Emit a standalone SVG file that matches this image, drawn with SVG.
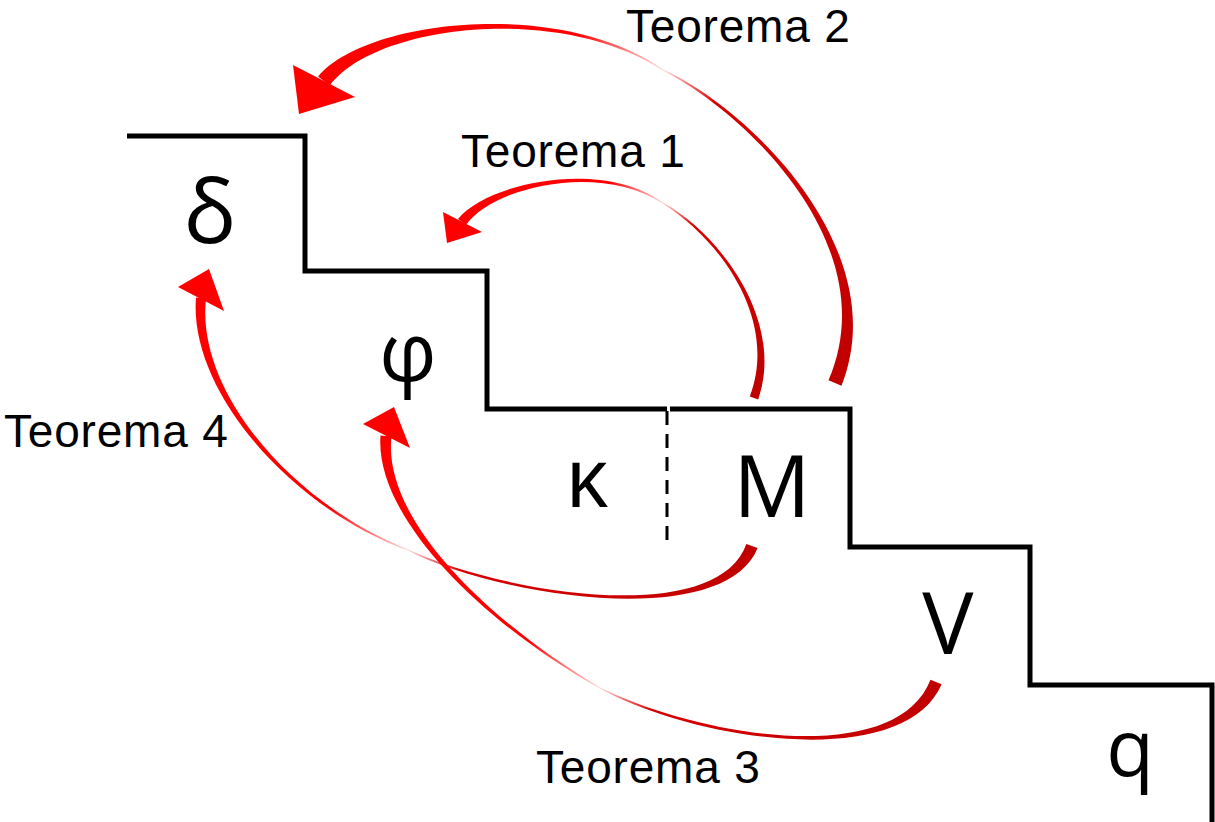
<svg xmlns="http://www.w3.org/2000/svg" width="1215" height="822" viewBox="0 0 1215 822">
<style>
.stair{fill:none;stroke:#000;stroke-width:5;stroke-linejoin:miter;stroke-linecap:butt}
.dash{fill:none;stroke:#000;stroke-width:3;stroke-dasharray:14 9}
.lbl{font-family:"Liberation Sans",Arial,sans-serif;font-size:46px;letter-spacing:0.8px;fill:#000}
.sym{font-family:"Open Sans","Noto Sans","DejaVu Sans",sans-serif;fill:#000;text-anchor:middle}
.head{fill:#ff0000}
</style>
<defs>
<linearGradient id="g2h" gradientUnits="userSpaceOnUse" x1="324" y1="81" x2="663" y2="70"><stop offset="0" stop-color="#ff0000"/><stop offset="0.75" stop-color="#ff0000"/><stop offset="1" stop-color="#ffdada"/></linearGradient>
<linearGradient id="g2t" gradientUnits="userSpaceOnUse" x1="663" y1="70" x2="835" y2="383"><stop offset="0" stop-color="#ffdada"/><stop offset="0.15" stop-color="#d80000"/><stop offset="1" stop-color="#c00000"/></linearGradient>
<linearGradient id="g1h" gradientUnits="userSpaceOnUse" x1="462" y1="222" x2="663" y2="203"><stop offset="0" stop-color="#ff0000"/><stop offset="0.75" stop-color="#ff0000"/><stop offset="1" stop-color="#ffdada"/></linearGradient>
<linearGradient id="g1t" gradientUnits="userSpaceOnUse" x1="663" y1="203" x2="754" y2="398"><stop offset="0" stop-color="#ffdada"/><stop offset="0.15" stop-color="#d80000"/><stop offset="1" stop-color="#c00000"/></linearGradient>
<linearGradient id="g4h" gradientUnits="userSpaceOnUse" x1="201" y1="298" x2="408" y2="550"><stop offset="0" stop-color="#ff0000"/><stop offset="0.75" stop-color="#ff0000"/><stop offset="1" stop-color="#ffdada"/></linearGradient>
<linearGradient id="g4t" gradientUnits="userSpaceOnUse" x1="408" y1="550" x2="752" y2="546"><stop offset="0" stop-color="#ffdada"/><stop offset="0.15" stop-color="#d80000"/><stop offset="1" stop-color="#c00000"/></linearGradient>
<linearGradient id="g3h" gradientUnits="userSpaceOnUse" x1="386" y1="436" x2="600" y2="688"><stop offset="0" stop-color="#ff0000"/><stop offset="0.75" stop-color="#ff0000"/><stop offset="1" stop-color="#ffdada"/></linearGradient>
<linearGradient id="g3t" gradientUnits="userSpaceOnUse" x1="600" y1="688" x2="936" y2="682"><stop offset="0" stop-color="#ffdada"/><stop offset="0.15" stop-color="#d80000"/><stop offset="1" stop-color="#c00000"/></linearGradient>
</defs>
<rect width="1215" height="822" fill="#fff"/>

<g id="staircase">
<polyline class="stair" points="127,136 305,136 305,271 487,271 487,409 667,409"/>
<polyline class="stair" points="670,409 850,409 850,547 1030,547 1030,685 1212,685 1212,822"/>
<line class="dash" x1="667" y1="411" x2="667" y2="540"/>
</g>

<g id="node-delta"><text class="sym" x="210" y="243" font-size="88">δ</text></g>
<g id="node-phi"><text class="sym" x="408" y="381" font-size="80">φ</text></g>
<g id="node-kappa"><text class="sym" x="587" y="507" font-size="82">κ</text></g>
<g id="node-M"><text class="sym" x="772" y="517" font-size="86">M</text></g>
<g id="node-V"><text class="sym" x="948" y="654" font-size="86">V</text></g>
<g id="node-q"><text class="sym" x="1130" y="776" font-size="78">q</text></g>

<g id="connectors">
<g id="teorema2">
<path fill="url(#g2h)" d="M329.9,85.6 C374.1,25.2 558.4,2.3 662.7,70.4 L663.3,69.6 C561.6,-2.3 365.9,18.8 318.1,76.4 Z"/>
<path fill="url(#g2t)" d="M662.8,70.5 C748.8,114.4 885.5,248.2 828.5,380.3 L841.5,385.7 C894.5,251.8 751.2,109.6 663.2,69.5 Z"/>
<polygon class="head" points="293,65 355,97 299,114"/>
</g>
<g id="teorema1">
<path fill="url(#g1h)" d="M466,225 C492.8,187.1 598.9,161.7 662.7,203.4 L663.3,202.6 C601.1,158.3 487.2,182.9 458,219 Z"/>
<path fill="url(#g1t)" d="M662.7,203.4 C719.1,238.6 779,318.9 749.8,396.5 L758.2,399.5 C785,321.1 720.9,235.4 663.3,202.6 Z"/>
<polygon class="head" points="443,212 482,232 447,243"/>
</g>
<g id="teorema4">
<path fill="url(#g4h)" d="M196,297.5 C188.5,389.7 289.3,506.9 407.8,550.5 L408.2,549.5 C290.7,503.1 195.5,390.3 206,298.5 Z"/>
<path fill="url(#g4t)" d="M407.8,550.4 C499,597.1 723.9,631.5 757.6,548.1 L746.4,543.9 C716.1,628.5 501,592.9 408.2,549.6 Z"/>
<polygon class="head" points="178,287 209,269 224,311"/>
</g>
<g id="teorema3">
<path fill="url(#g3h)" d="M380.5,435.5 C374.2,519.6 488.9,626.9 599.8,688.4 L600.2,687.6 C491.1,623.1 381.8,520.4 391.5,436.5 Z"/>
<path fill="url(#g3t)" d="M599.8,688.4 C698.9,742.1 903.9,771.6 941.6,684.3 L930.5,679.7 C896.1,768.4 701.1,737.9 600.2,687.6 Z"/>
<polygon class="head" points="363,424 394,407 410,448"/>
</g>
</g>

<g id="labels">
<text class="lbl" x="626" y="42">Teorema 2</text>
<text class="lbl" x="461" y="167">Teorema 1</text>
<text class="lbl" x="4" y="447">Teorema 4</text>
<text class="lbl" x="536" y="783">Teorema 3</text>
</g>
</svg>
